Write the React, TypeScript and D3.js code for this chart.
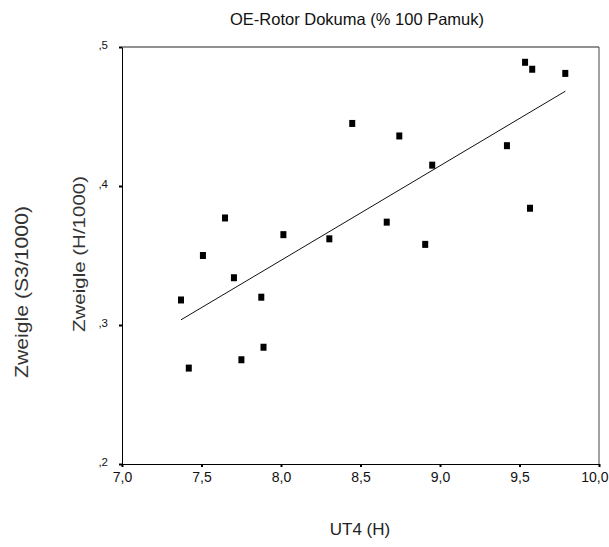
import * as d3 from 'd3';
import { useEffect, useRef } from 'react';

const WIDTH = 609;
const HEIGHT = 547;

// UT4 (H) vs Zweigle (H/1000)
const ut4 = [
    7.371, 7.42, 7.509, 7.648, 7.704, 7.751, 7.876, 7.89, 8.015, 8.304,
    8.448, 8.665, 8.744, 8.907, 8.951, 9.421, 9.535, 9.566, 9.58, 9.788,
];
const zweigle = [
    0.318, 0.269, 0.35, 0.377, 0.334, 0.275, 0.32, 0.284, 0.365, 0.362,
    0.445, 0.374, 0.436, 0.358, 0.415, 0.429, 0.489, 0.384, 0.484, 0.481,
];
const xTicks = [7, 7.5, 8, 8.5, 9, 9.5, 10];
const yTicks = [0.2, 0.3, 0.4, 0.5];

const TITLE = 'OE-Rotor Dokuma (% 100 Pamuk)';
const X_TITLE = 'UT4 (H)';
const Y_TITLE = 'Zweigle (H/1000)';
const Y_TITLE_OUTER = 'Zweigle (S3/1000)';

const FONT = '"Liberation Sans", Arial, sans-serif';

const commaFmt = (v: number) => d3.format('.1f')(v).replace('.', ',');
const yFmt = (v: number) => d3.format('.1f')(v).replace('0.', ',');

export default function App() {
    const svgRef = useRef<SVGSVGElement>(null);

    useEffect(() => {
        if (!svgRef.current) return;
        const svg = d3.select(svgRef.current);
        svg.selectAll('*').remove();

        const margin = { top: 47, right: 10, bottom: 83, left: 122 };
        const innerW = WIDTH - margin.left - margin.right;
        const innerH = HEIGHT - margin.top - margin.bottom;

        const x = d3.scaleLinear().domain([7, 10]).range([0, innerW]);
        const y = d3.scaleLinear().domain([0.2, 0.5]).range([innerH, 0]);

        const pts = ut4.map((v, i) => ({ x: v, y: zweigle[i] }));

        // least squares fit
        const mx = d3.mean(ut4) as number;
        const my = d3.mean(zweigle) as number;
        const sxy = d3.sum(pts, (d) => (d.x - mx) * (d.y - my));
        const sxx = d3.sum(pts, (d) => (d.x - mx) ** 2);
        const slope = sxy / sxx;
        const icpt = my - slope * mx;
        const [x0, x1] = d3.extent(ut4) as [number, number];
        const fit = [x0, x1].map((v) => ({ x: v, y: icpt + slope * v }));

        svg.append('rect').attr('width', WIDTH).attr('height', HEIGHT).attr('fill', '#fff');

        svg.append('text')
            .attr('x', 357)
            .attr('y', 25)
            .attr('text-anchor', 'middle')
            .attr('font-family', FONT)
            .attr('font-size', '16.5px')
            .attr('fill', '#111')
            .text(TITLE);

        const g = svg
            .append('g')
            .attr('transform', `translate(${margin.left},${margin.top})`);

        // frame top / right
        g.append('line')
            .attr('x1', 0).attr('x2', innerW).attr('y1', 0).attr('y2', 0)
            .attr('stroke', '#222');
        g.append('line')
            .attr('x1', innerW).attr('x2', innerW).attr('y1', 0).attr('y2', innerH)
            .attr('stroke', '#444');

        const xAxis = g
            .append('g')
            .attr('transform', `translate(0,${innerH})`)
            .call(d3.axisBottom(x).tickValues(xTicks).tickSize(3).tickSizeOuter(0).tickFormat((d) => commaFmt(+d)));
        xAxis.select('.domain').attr('stroke', '#000');
        xAxis.selectAll('.tick line').attr('stroke-width', 2);
        xAxis.selectAll('text')
            .attr('font-family', FONT)
            .attr('font-size', '14px')
            .attr('fill', '#111')
            .attr('dy', '0.85em')
            .attr('y', 6);
        // last label sits against the right edge of the picture
        xAxis.selectAll<SVGTextElement, number>('text')
            .filter((d) => d === 10)
            .attr('text-anchor', 'end')
            .attr('x', WIDTH - margin.left - innerW - 1);

        const yAxis = g
            .append('g')
            .call(d3.axisLeft(y).tickValues(yTicks).tickSize(3).tickSizeOuter(0).tickFormat((d) => yFmt(+d)));
        yAxis.select('.domain').attr('stroke', '#000');
        yAxis.selectAll('.tick line').attr('stroke-width', 2);
        yAxis.selectAll('text')
            .attr('font-family', FONT)
            .attr('font-size', '11.5px')
            .attr('fill', '#111')
            .attr('x', -14)
            .attr('dy', '0.15em');

        g.append('path')
            .datum(fit)
            .attr('fill', 'none')
            .attr('stroke', '#111')
            .attr('stroke-width', 1)
            .attr('d', d3.line<{ x: number; y: number }>().x((d) => x(d.x)).y((d) => y(d.y)));

        g.selectAll('rect.pt')
            .data(pts)
            .join('rect')
            .attr('class', 'pt')
            .attr('x', (d) => x(d.x) - 3)
            .attr('y', (d) => y(d.y) - 3.5)
            .attr('width', 6)
            .attr('height', 7)
            .attr('fill', '#000');

        svg.append('text')
            .attr('x', 360)
            .attr('y', 535)
            .attr('text-anchor', 'middle')
            .attr('font-family', FONT)
            .attr('font-size', '17px')
            .attr('fill', '#222')
            .text(X_TITLE);

        svg.append('text')
            .attr('transform', 'translate(85,254) rotate(-90)')
            .attr('text-anchor', 'middle')
            .attr('font-family', FONT)
            .attr('font-size', '17px')
            .attr('textLength', 156)
            .attr('lengthAdjust', 'spacingAndGlyphs')
            .attr('fill', '#333')
            .text(Y_TITLE);

        svg.append('text')
            .attr('transform', 'translate(28,292) rotate(-90)')
            .attr('text-anchor', 'middle')
            .attr('font-family', FONT)
            .attr('font-size', '18px')
            .attr('textLength', 172)
            .attr('lengthAdjust', 'spacingAndGlyphs')
            .attr('fill', '#333')
            .text(Y_TITLE_OUTER);
    }, []);

    return (
        <svg
            ref={svgRef}
            width={WIDTH}
            height={HEIGHT}
            style={{ position: 'absolute', left: 0, top: 0, display: 'block' }}
        />
    );
}
